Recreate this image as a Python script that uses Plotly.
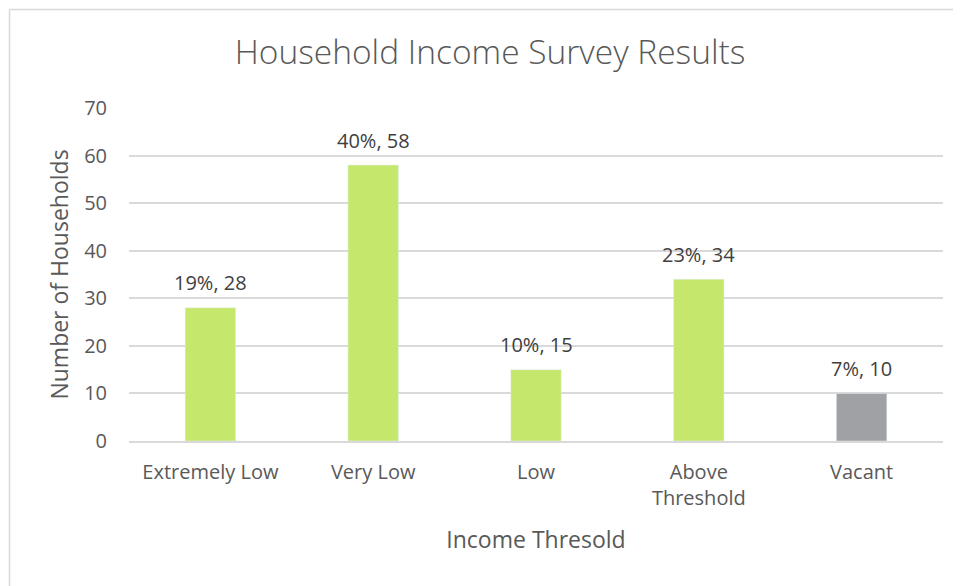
import plotly.graph_objects as go

categories = ["Extremely Low", "Very Low", "Low", "Above<br>Threshold", "Vacant"]
counts = [28, 58, 15, 34, 10]
percents = ["19%", "40%", "10%", "23%", "7%"]
colors = ["#C5E86C", "#C5E86C", "#C5E86C", "#C5E86C", "#A0A1A5"]

labels = [f"{p}, {c}" for p, c in zip(percents, counts)]

FONT = "Open Sans"
TXT = "#595959"

# figure sits at (8, 8) in the page because of the body margin
W, H = 953, 578
L, R, T, B = 121, 18, 100, 145
pw, ph = W - L - R, H - T - B

def px_x(p):
    return (p - L) / pw

def px_y(p):
    return (H - B - p) / ph

fig = go.Figure(go.Bar(
    x=categories, y=counts, marker_color=colors, width=0.31,
    hoverinfo="x+y",
))

for cat, val, lab in zip(categories, counts, labels):
    fig.add_annotation(x=cat, y=val, text=lab, showarrow=False,
                       yanchor="middle", yshift=25,
                       font=dict(family=FONT, size=20, color="#404040"))

fig.update_layout(
    width=W, height=H,
    margin=dict(l=L, r=R, t=T, b=B),
    paper_bgcolor="white", plot_bgcolor="white",
    font=dict(family=FONT, color=TXT),
    title=dict(text="Household Income Survey Results", x=482 / W, xanchor="center",
               y=1 - 44 / H, yanchor="middle", yref="container",
               font=dict(family=FONT, size=33.5, color=TXT, weight=300)),
    showlegend=False,
    bargap=0.69,
    shapes=[
        dict(type="line", xref="paper", yref="paper",
             x0=px_x(1.5), x1=px_x(W + 10), y0=px_y(1.5), y1=px_y(1.5),
             line=dict(color="#D9D9D9", width=1.5)),
        dict(type="line", xref="paper", yref="paper",
             x0=px_x(1.5), x1=px_x(1.5), y0=px_y(1.5), y1=px_y(H + 10),
             line=dict(color="#D9D9D9", width=1.5)),
    ],
)
fig.update_xaxes(
    showgrid=False, showline=True, linecolor="#D9D9D9", linewidth=1.5,
    ticks="", ticklabelstandoff=12,
    tickfont=dict(family=FONT, size=20, color=TXT),
    title=dict(text="Income Thresold", font=dict(family=FONT, size=23, color=TXT), standoff=22),
)
fig.update_yaxes(
    range=[0, 70], dtick=10, showgrid=True, gridcolor="#D9D9D9", gridwidth=1.5,
    zeroline=False, showline=False, ticks="", ticklabelstandoff=21,
    tickfont=dict(family=FONT, size=20, color=TXT),
    title=dict(text="Number of Households", font=dict(family=FONT, size=23, color=TXT), standoff=9),
)
fig.write_html("out.html")
